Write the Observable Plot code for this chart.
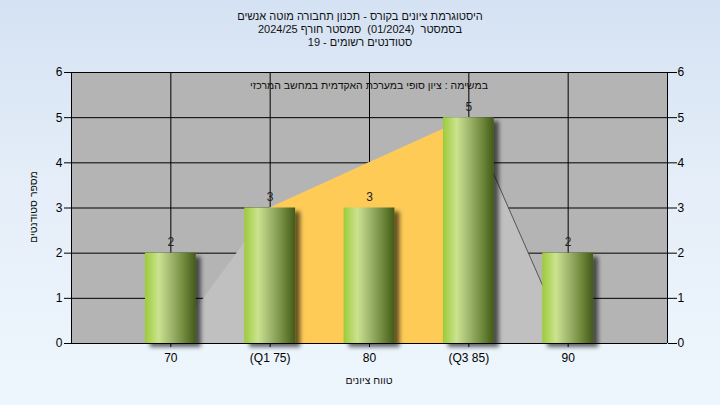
<!DOCTYPE html>
<html>
<head>
<meta charset="utf-8">
<script src="https://cdn.jsdelivr.net/npm/d3@7"></script>
<script src="https://cdn.jsdelivr.net/npm/@observablehq/plot@0.6"></script>
<style>
  html, body { margin: 0; padding: 0; }
  body { width: 720px; height: 405px; overflow: hidden;
         background: linear-gradient(to bottom, #d5e2f3 0%, #e6eff9 50%, #eef6fd 100%);
         font-family: "Liberation Sans", "DejaVu Sans", Arial, sans-serif; }
  #wrap { position: relative; width: 720px; height: 405px; }
  #wrap svg { position: absolute; left: 0; top: 0; background: transparent; }
  .t { position: absolute; font-size: 10.5px; color: #111; white-space: pre; line-height: 13px; }
  #title { left: 0; width: 720px; top: 10px; text-align: center; font-size: 11px; }
  #sub { left: 71px; width: 596px; top: 79px; text-align: center; }
  #xlab { left: 71px; width: 596px; top: 374px; text-align: center; }
  #ylab { left: 33px; top: 207px; transform: translate(-50%, -50%) rotate(-90deg); }
</style>
</head>
<body>
<div id="wrap"></div>
<script>
// ---- data ----
const titleLines = [
  "היסטוגרמת ציונים בקורס - תכנון תחבורה מוטה אנשים",
  "בסמסטר  (01/2024)  סמסטר חורף 2024/25",
  "סטודנטים רשומים - 19"
];
const subtitle = "במשימה : ציון סופי במערכת האקדמית במחשב המרכזי";
const xLabel = "טווח ציונים";
const yLabel = "מספר סטודנטים";
const grades = [70, 75, 80, 85, 90];
const tickLabels = ["70", "(Q1 75)", "80", "(Q3 85)", "90"];
const counts = [2, 3, 3, 5, 2];
const outlineY = [0, 3, 4, 5, 0];
const q1 = 75, q3 = 85;
const yTicks = [0, 1, 2, 3, 4, 5, 6];

const bars = grades.map((g, i) => ({g, c: counts[i]}));
const outline = grades.map((g, i) => ({g, v: outlineY[i]}));
const half = 1.28;

const chart = Plot.plot({
  width: 720, height: 405,
  marginLeft: 71, marginRight: 53, marginTop: 72, marginBottom: 62,
  style: {background: "transparent", fontSize: "12px", fontFamily: "Liberation Sans, DejaVu Sans, Arial, sans-serif", color: "#000"},
  x: {type: "linear", domain: [65, 95]},
  y: {domain: [0, 6]},
  marks: [
    Plot.frame({fill: "#b4b4b4", stroke: null}),
    Plot.gridY(yTicks.slice(1), {stroke: "#000", strokeOpacity: 1}),
    Plot.gridX(grades, {stroke: "#000", strokeOpacity: 1}),
    Plot.areaY(outline, {x: "g", y: "v", fill: "#c0c0c0", curve: "linear"}),
    Plot.areaY(outline.filter(d => d.g >= q1 && d.g <= q3), {x: "g", y: "v", fill: "#fecb57", curve: "linear"}),
    Plot.line(outline.filter(d => d.g >= q3), {x: "g", y: "v", stroke: "#555", strokeWidth: 1}),
    Plot.rectY(bars, {x1: d => d.g - half, x2: d => d.g + half, y: "c", fill: "url(#barGrad)"}),
    Plot.text(bars, {x: "g", y: "c", text: d => String(d.c), dy: -11, fill: "#222", fontSize: 12}),
    Plot.ruleX([65], {stroke: "#000"}),
    Plot.ruleX([95], {stroke: "#000"}),
    Plot.ruleY([0], {stroke: "#000"}),
    Plot.axisX(grades, {tickFormat: (d, i) => tickLabels[i], tickSize: 4, tickPadding: 6, label: null, fontSize: 12}),
    Plot.axisY(yTicks, {anchor: "left", tickSize: 7, tickPadding: 2, label: null, fontSize: 12}),
    Plot.axisY(yTicks, {anchor: "right", tickSize: 9, tickPadding: 1, label: null, fontSize: 12})
  ]
});

const svg = d3.select(chart);
const defs = svg.insert("defs", ":first-child");
const lg = defs.append("linearGradient").attr("id", "barGrad").attr("x1", "0").attr("x2", "1").attr("y1", "0").attr("y2", "0");
[[0, "#9ccb3a"], [0.27, "#cbe38f"], [0.5, "#a2b970"], [0.78, "#6d873a"], [1, "#435a18"]]
  .forEach(([o, c]) => lg.append("stop").attr("offset", o).attr("stop-color", c));
const f = defs.append("filter").attr("id", "shadow").attr("x", "-20%").attr("y", "-20%").attr("width", "160%").attr("height", "160%");
f.append("feDropShadow").attr("dx", 5).attr("dy", 4).attr("stdDeviation", 2).attr("flood-color", "#000").attr("flood-opacity", 0.6);
svg.selectAll('[fill="url(#barGrad)"]').attr("filter", "url(#shadow)");

const wrap = document.getElementById("wrap");
wrap.appendChild(chart);

function addText(id, html) {
  const d = document.createElement("div");
  d.id = id; d.className = "t"; d.dir = "rtl";
  d.innerHTML = html;
  wrap.appendChild(d);
}
addText("title", titleLines.map(s => `<div>${s}</div>`).join(""));
addText("sub", subtitle);
addText("xlab", xLabel);
addText("ylab", yLabel);
</script>
</body>
</html>
